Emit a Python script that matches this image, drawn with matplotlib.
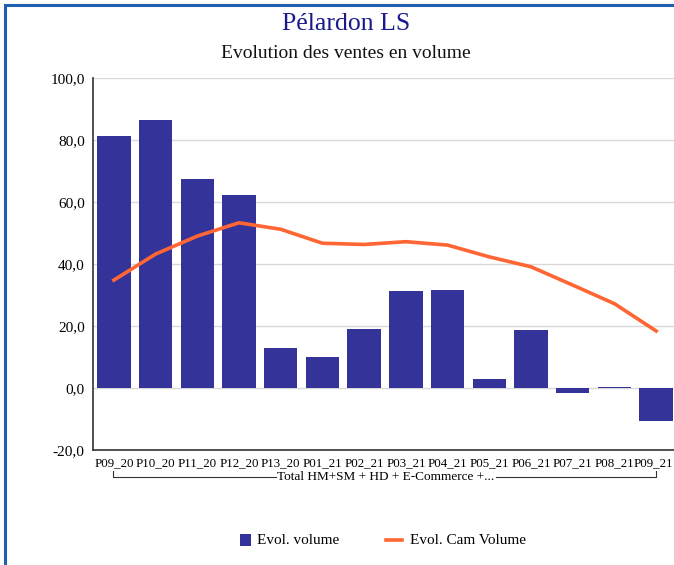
import matplotlib
matplotlib.use("Agg")
import matplotlib.pyplot as plt
import matplotlib.transforms as mtransforms
from matplotlib.patches import Rectangle
from matplotlib.lines import Line2D
import numpy as np

# donnees
periodes = ["P09_20", "P10_20", "P11_20", "P12_20", "P13_20", "P01_21", "P02_21",
            "P03_21", "P04_21", "P05_21", "P06_21", "P07_21", "P08_21", "P09_21"]
evol_volume = [81.3, 86.4, 67.4, 62.2, 13.0, 10.1, 19.1,
               31.4, 31.7, 2.9, 18.6, -1.5, 0.3, -10.6]
evol_cam = [34.8, 43.2, 49.0, 53.3, 51.2, 46.7, 46.3,
            47.2, 46.1, 42.3, 39.1, 33.2, 27.2, 18.4]
y_ticks = [-20, 0, 20, 40, 60, 80, 100]
groupe = "Total HM+SM + HD + E-Commerce +..."

plt.rcParams['font.family'] = ['Liberation Serif', 'DejaVu Serif']

W, H = 674, 565
fig = plt.figure(figsize=(W / 100, H / 100), dpi=100)

# cadre bleu (seuls les bords haut et gauche sont visibles)
fig.patches.append(Rectangle((5 / W, -0.05), 1.2, 1 - 5 / H + 0.05, transform=fig.transFigure,
                             fill=False, edgecolor="#1f5fb0", linewidth=2.2))

ax = fig.add_axes([93 / W, 1 - 450 / H, 584 / W, 372 / H])
x = np.arange(len(periodes))
ax.bar(x, evol_volume, width=0.8, color="#333399", zorder=3)
ax.plot(x, evol_cam, color="#ff6633", linewidth=2.6, zorder=4)

ax.set_xlim(-0.5, len(periodes) - 0.5)
ax.set_ylim(-20, 100)
ax.set_yticks(y_ticks)
ax.set_yticklabels([f"{v:.1f}".replace(".", ",") for v in y_ticks], fontsize=11)
ax.tick_params(axis="y", length=0, pad=6)
ax.set_xticks(x)
ax.set_xticklabels(periodes, fontsize=9.3)
ax.tick_params(axis="x", length=0, pad=5)
# dernier libelle decale a gauche pour rester dans l'image
last = ax.get_xticklabels()[-1]
last.set_transform(last.get_transform() + mtransforms.ScaledTranslation(-3 / 100, 0, fig.dpi_scale_trans))
ax.yaxis.grid(True, color="#d9d9d9", linewidth=1, zorder=0)
for s in ["top", "right"]:
    ax.spines[s].set_visible(False)
ax.spines["left"].set_color("#333333")
ax.spines["bottom"].set_color("#333333")
ax.spines["left"].set_linewidth(1.2)
ax.spines["bottom"].set_linewidth(1.2)

# accolade du groupe de categories
yb = 1 - 477 / H
y1 = 1 - 471 / H
xl, xr = 113 / W, 656 / W
xt = 386 / W
tw = 110 / W
fig.add_artist(Line2D([xl, xl, xt - tw], [y1, yb, yb], color="#333333", linewidth=0.8))
fig.add_artist(Line2D([xt + tw, xr, xr], [yb, yb, y1], color="#333333", linewidth=0.8))
fig.text(xt, yb, groupe, ha="center", va="center", fontsize=9.5)

fig.text(346 / W, 1 - 24 / H, "Pélardon LS", ha="center", va="center",
         fontsize=18.5, color="#1a1a8c")
fig.text(346 / W, 1 - 53 / H, "Evolution des ventes en volume", ha="center", va="center",
         fontsize=14, color="#111111")

# legende
ly = 1 - 540 / H
fig.patches.append(Rectangle((240 / W, ly - 6 / H), 11 / W, 12 / H, transform=fig.transFigure,
                             facecolor="#333399", edgecolor="none"))
fig.text(257 / W, ly, "Evol. volume", ha="left", va="center", fontsize=11)
fig.add_artist(Line2D([386 / W, 402 / W], [ly, ly], color="#ff6633", linewidth=2.6))
fig.text(410 / W, ly, "Evol. Cam Volume", ha="left", va="center", fontsize=11)

fig.savefig("out.png", dpi=100)
